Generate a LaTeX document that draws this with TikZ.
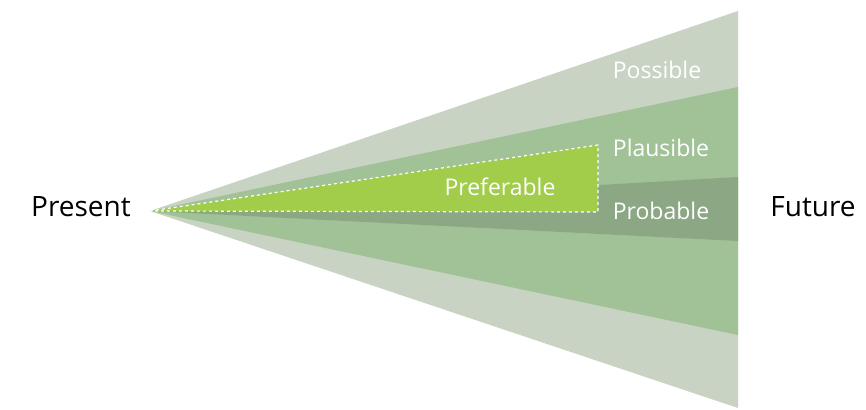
\documentclass[tikz,border=0pt]{standalone}
\usepackage{fontspec}
\setmainfont{Open Sans}
\usetikzlibrary{positioning, calc}

\definecolor{possiblecol}{HTML}{C8D3C4}
\definecolor{plausiblecol}{HTML}{A0C296}
\definecolor{probablecol}{HTML}{8BA783}
\definecolor{preferablecol}{HTML}{A2CD4A}

\tikzset{
  cone/.style={line width=0pt},
  conelabel/.style={text=white, font=\fontsize{23}{26}\selectfont, inner sep=0pt},
  endlabel/.style={text=black, font=\fontsize{28}{32}\selectfont, inner sep=0pt}
}

\begin{document}
\begin{tikzpicture}[x=1pt, y=-1pt]
\useasboundingbox (0,0) rectangle (866,409);

\coordinate (apex) at (150,211);

% Futures cone
\fill[possiblecol, cone] (apex) -- (738,11) -- (738,408) -- cycle;
\fill[plausiblecol, cone] (apex) -- (738,87) -- (738,335) -- cycle;
\fill[probablecol, cone] (apex) -- (738,177) -- (738,241) -- cycle;
\fill[preferablecol, cone] (apex) -- (598,145) -- (598,212) -- cycle;
\draw[white, dashed, line width=1.2pt] (apex) -- (598,145) -- (598,212) -- cycle;

\node[conelabel] (possible) at (657,70) {Possible};
\node[conelabel] (plausible) at (661,148) {Plausible};
\node[conelabel] (probable) at (661,211) {Probable};
\node[conelabel] (preferable) at (500,187) {Preferable};

\node[endlabel] (present) at (81,207) {Present};
\node[endlabel] (future) at (813,207) {Future};
\end{tikzpicture}
\end{document}
